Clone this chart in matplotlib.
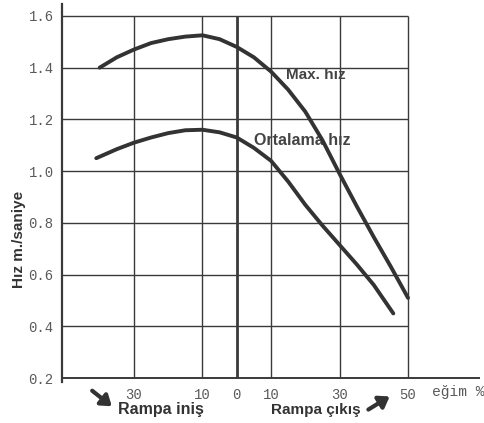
import matplotlib
matplotlib.use("Agg")
import matplotlib.pyplot as plt
from matplotlib.patches import FancyArrowPatch

# hız (m/s) vs eğim (%), iniş negative on the axis, labelled as absolute values
max_x = [-40, -35, -30, -25, -20, -15, -10, -5, 0, 5, 10, 15, 20, 25, 30, 35, 40, 45, 50]
max_y = [1.40, 1.44, 1.47, 1.495, 1.51, 1.52, 1.525, 1.51, 1.48, 1.44, 1.385, 1.315,
         1.23, 1.12, 0.99, 0.865, 0.745, 0.63, 0.51]
ort_x = [-41, -35, -30, -25, -20, -15, -10, -5, 0, 5, 10, 15, 20, 25, 30, 35, 40, 45.7]
ort_y = [1.05, 1.085, 1.11, 1.13, 1.147, 1.158, 1.16, 1.15, 1.13, 1.09, 1.04, 0.96,
         0.87, 0.79, 0.715, 0.64, 0.56, 0.45]

xticks = [-30, -10, 0, 10, 30, 50]
xticklabels = ["30", "10", "0", "10", "30", "50"]
yticks = [0.2, 0.4, 0.6, 0.8, 1.0, 1.2, 1.4, 1.6]
yticklabels = ["0.2", "0.4", "0.6", "0.8", "1.0", "1.2", "1.4", "1.6"]

INK = "#3a3a3a"
TICK = "#5a5a5a"
MONO = "Liberation Mono"
SANS = "Liberation Sans"

W, H = 485, 423
fig = plt.figure(figsize=(W / 100, H / 100), dpi=100)
fig.patch.set_facecolor("white")
ax = fig.add_axes([62 / W, 41 / H, (480 - 62) / W, (419 - 41) / H])
ax.set_xlim(-51, 71)
ax.set_ylim(0.185, 1.646)

for s in ("top", "right", "bottom"):
    ax.spines[s].set_visible(False)
ax.spines["left"].set_color(INK)
ax.spines["left"].set_linewidth(1.6)

# grid, drawn only over the chart area
ax.hlines(yticks[1:], -51, 50, color=INK, lw=1.0, zorder=1)
ax.vlines([v for v in xticks if v != 0], 0.2, 1.6, color=INK, lw=1.0, zorder=1)
ax.vlines(0, 0.2, 1.6, color=INK, lw=2.0, zorder=1)
ax.hlines(0.2, -51, 71, color=INK, lw=1.4, zorder=1)

ax.plot(max_x, max_y, color="#333333", lw=2.8, solid_capstyle="round", zorder=3)
ax.plot(ort_x, ort_y, color="#333333", lw=2.8, solid_capstyle="round", zorder=3)

ax.set_xticks(xticks)
ax.set_xticklabels(xticklabels, family=MONO, fontsize=10, color=TICK)
ax.set_yticks(yticks)
ax.set_yticklabels(yticklabels, family=MONO, fontsize=10, color=TICK)
ax.tick_params(axis="both", length=0)
ax.tick_params(axis="y", pad=6)
ax.tick_params(axis="x", pad=4)

ax.text(23, 1.372, "Max. hız", family=SANS, weight="bold", fontsize=11,
        color="#444444", ha="center", va="center", zorder=2)
ax.text(19, 1.117, "Ortalama hız", family=SANS, weight="bold", fontsize=11.5,
        color="#444444", ha="center", va="center", zorder=2)

fig.text(432 / W, 1 - 392 / H, "eğim %", family=MONO, fontsize=10.5,
         color=TICK, ha="left", va="center")

fig.text(19 / W, 1 - 239 / H, "Hız m./saniye", family=SANS, weight="bold",
         fontsize=11, color="#333333", rotation=90, ha="center", va="center")
fig.text(118 / W, 1 - 409 / H, "Rampa iniş", family=SANS, weight="bold",
         fontsize=11.5, color="#333333", ha="left", va="center")
fig.text(271 / W, 1 - 410 / H, "Rampa çıkış", family=SANS, weight="bold",
         fontsize=11, color="#333333", ha="left", va="center")

arrow_style = "-|>,head_width=0.35,head_length=0.5"
fig.add_artist(FancyArrowPatch(
    (90 / W, 1 - 389 / H), (114 / W, 1 - 408 / H), transform=fig.transFigure,
    arrowstyle=arrow_style, color="#333333", lw=3, mutation_scale=12))
fig.add_artist(FancyArrowPatch(
    (366 / W, 1 - 411 / H), (392 / W, 1 - 395 / H), transform=fig.transFigure,
    arrowstyle=arrow_style, color="#333333", lw=3, mutation_scale=12))

fig.savefig("out.png", dpi=100)
